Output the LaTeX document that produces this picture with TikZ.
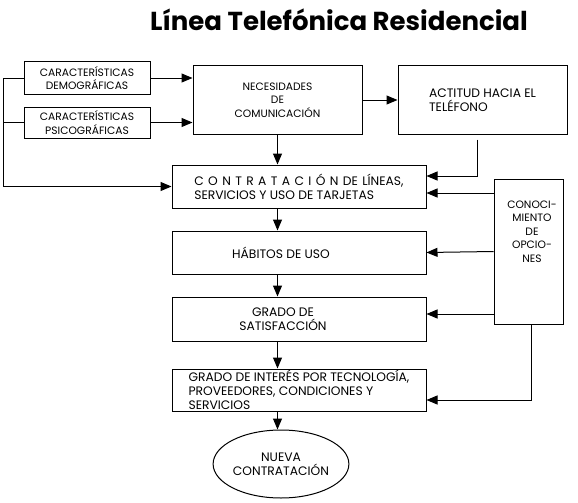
\documentclass[tikz,border=0pt]{standalone}
\usepackage{fontspec}
\setmainfont{Poppins}
\usepackage{tikz}
\usetikzlibrary{positioning, arrows.meta}
\usetikzlibrary{shapes,shapes.geometric}
\newcommand{\hueco}{\hspace{1.1pt}}
\tikzset{caja/.style={draw, rectangle, inner sep=0pt, align=center, font=\fontsize{10.7}{13.5}\selectfont}}
\tikzset{grande/.style={font=\fontsize{12.3}{14}\selectfont}}
\tikzset{elipse/.style={draw, ellipse, inner sep=0pt, align=center, grande}}
\tikzset{flecha/.style={-{Triangle[length=11pt,width=9pt]}}}

\begin{document}
\begin{tikzpicture}[x=1pt, y=-1pt, line width=1pt]
			\useasboundingbox (0,0) rectangle (578,503);
			\node[font=\fontsize{26}{30}\selectfont\bfseries] (titulo) at (339,20) {Línea Telefónica Residencial};
			\node[caja, minimum width=126pt, minimum height=32pt] (dem) at (87,78) {CARACTERÍSTICAS\\DEMOGRÁFICAS};
			\node[caja, minimum width=126pt, minimum height=31pt] (psi) at (87,122.5) {CARACTERÍSTICAS\\PSICOGRÁFICAS};
			\node[caja, minimum width=169pt, minimum height=68pt] (nec) at (277.5,100) {NECESIDADES\\DE\\COMUNICACIÓN};
			\node[caja, grande, minimum width=169pt, minimum height=68pt, align=left] (act) at (482.5,100) {ACTITUD HACIA EL\\TELÉFONO};
			\node[caja, grande, minimum width=254pt, minimum height=43pt, align=left] (con) at (299,186.5) {C\hueco{} O\hueco{} N\hueco{} T\hueco{} R\hueco{} A\hueco{} T\hueco{} A\hueco{} C\hueco{} I\hueco{} Ó\hueco{} N\hueco{} DE\hueco{} LÍNEAS,\\SERVICIOS Y USO DE TARJETAS};
			\node[caja, minimum width=254pt, minimum height=43pt, below=22pt of con, label={[xshift=-18pt, grande]center:HÁBITOS DE USO}] (hab) {};
			\node[caja, minimum width=254pt, minimum height=44pt, below=22pt of hab, label={[xshift=-16pt, align=center, grande]center:GRADO DE\\SATISFACCIÓN}] (gra) {};
			\node[caja, grande, minimum width=254pt, minimum height=42pt, below=27pt of gra, align=left] (int) {GRADO DE INTERÉS POR TECNOLOGÍA,\\PROVEEDORES, CONDICIONES Y\\SERVICIOS};
			\node[caja, minimum width=69pt, minimum height=145pt, label={[xshift=3.5pt, yshift=20pt, align=center, font=\fontsize{10.7}{13.5}\selectfont]center:CONOCI-\\MIENTO\\DE\\OPCIO-\\NES}] (conoc) at (528.5,251.5) {};
			\node[elipse, minimum width=128pt, minimum height=68pt] (nue) at (281,464) {NUEVA\\CONTRATACIÓN};

			\coordinate (c0) at ([yshift=10.5pt]con.east);
			\coordinate (c1) at ([yshift=-6.5pt]con.east);
			\coordinate (c2) at ([yshift=5pt]gra.east);
			\coordinate (c3) at ([yshift=-10pt]int.east);

			\draw[flecha] (dem.east) -- (dem.east -| nec.west);
			\draw[flecha] (psi.east) -- (psi.east -| nec.west);
			\draw[flecha] (nec.east) -- (act.west);
			\draw[flecha] (dem.west) -- ++(-20,0) |- (con.west);
			\draw (psi.west) -- ++(-20,0);
			\draw[flecha] ([xshift=-5.5pt,yshift=-5pt]act.south) |- (c0);
			\draw[flecha] (conoc.west |- c1) -- (c1);
			\draw[flecha] (conoc.west) -- (hab.east);
			\draw[flecha] (conoc.west |- c2) -- (c2);
			\draw[flecha] ([xshift=2.5pt]conoc.south) |- (c3);
			\draw[flecha] (nec.south) -- (nec.south |- con.north);
			\draw[flecha] (con.south -| nec) -- (hab.north -| nec);
			\draw[flecha] (hab.south -| nec) -- (gra.north -| nec);
			\draw[flecha] (gra.south -| nec) -- (int.north -| nec);
			\draw[flecha] (int.south -| nec) -- (nec |- nue.north);
		\end{tikzpicture}
\end{document}
